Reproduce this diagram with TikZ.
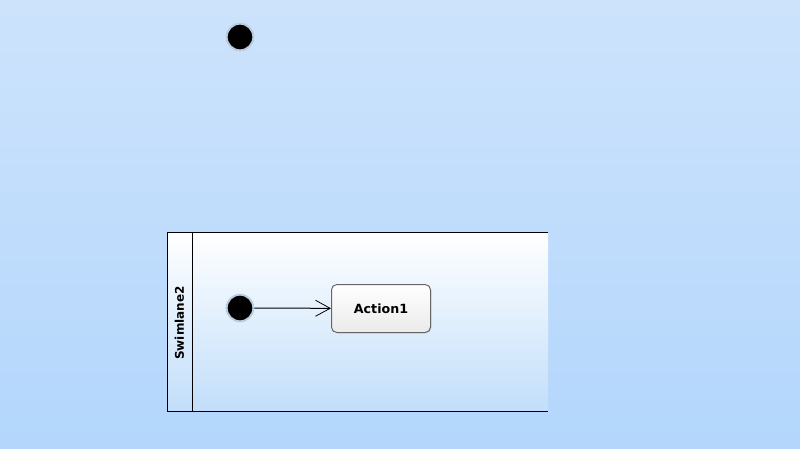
\documentclass[tikz,border=0pt]{standalone}
\usepackage{fontspec}
\setmainfont{DejaVu Sans}
\usetikzlibrary{arrows.meta,shadows}
\definecolor{bgtop}{HTML}{CDE3FC}
\definecolor{bgbot}{HTML}{B3D6FC}
\definecolor{lanebot}{HTML}{C2DEFA}
\definecolor{halo}{HTML}{B9CCE0}
\tikzset{
  initnode/.style={circle, fill=black, draw=halo, line width=1.5pt, minimum size=20pt, inner sep=0pt},
  actionbox/.style={draw=black!60, line width=0.75pt, rounded corners=4pt, top color=white, bottom color=black!8,
     minimum width=74.25pt, minimum height=36pt, font=\bfseries\fontsize{9.5}{11}\selectfont,
     drop shadow={shadow xshift=0.6pt, shadow yshift=-0.6pt, opacity=0.25}},
  flow/.style={draw=black, line width=0.75pt, -{Straight Barb[length=11pt, width=12pt, line width=0.6pt]}},
  lanebox/.style={draw=black, line width=0.75pt},
}
\begin{document}
\begin{tikzpicture}[x=0.75pt, y=-0.75pt]
\useasboundingbox (0,0) rectangle (800,449);
\shade[top color=bgtop, bottom color=bgbot] (0,0) rectangle (800,449);
% swimlane
\shade[top color=white, bottom color=lanebot] (167,233) rectangle (548,411);
\draw[lanebox] (548,233) -- (167,233) -- (167,411) -- (548,411);
\draw[lanebox] (192,233) -- (192,411);
\node[rotate=90, font=\bfseries\fontsize{9}{11}\selectfont] (lanelabel) at (179.5,323) {Swimlane2};
% nodes
\node[initnode] (init1) at (240,37) {};
\node[initnode] (init2) at (240,308) {};
\node[actionbox] (action1) at (381,308.5) {Action1};
\draw[flow] (init2) -- (action1);
\end{tikzpicture}
\end{document}
